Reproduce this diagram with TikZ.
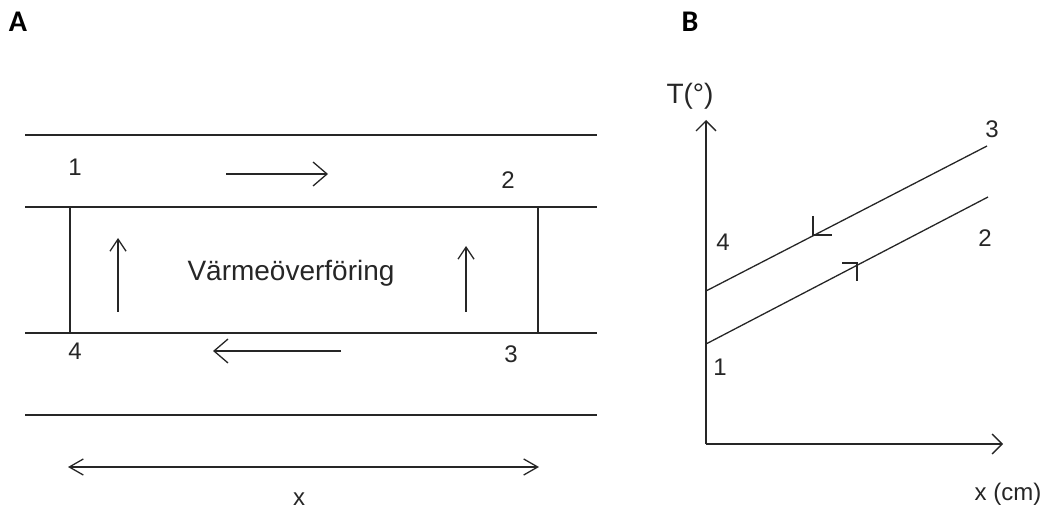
\documentclass[tikz,border=0pt]{standalone}
\usepackage{fontspec}
\setmainfont{Liberation Sans}
\newfontfamily\panelfont{Carlito}
\usetikzlibrary{arrows.meta}
\begin{document}
\begin{tikzpicture}[x=1pt,y=-1pt,line width=1.3pt,
  ln/.style={draw=black!85},
  txt/.style={font=\fontsize{24}{28}\selectfont,text=black!85,inner sep=0pt},
  big/.style={font=\fontsize{28}{32}\selectfont,text=black!85,inner sep=0pt},
  panel/.style={font=\panelfont\bfseries\fontsize{30}{34}\selectfont,inner sep=0pt},
  flow/.style={ln,-{Straight Barb[length=14pt,width=24pt,line width=1.3pt]}},
  upflow/.style={ln,-{Straight Barb[length=12pt,width=16pt,line width=1.3pt]}},
  dim/.style={ln,{Straight Barb[length=14pt,width=16pt,line width=1.3pt]}-{Straight Barb[length=14pt,width=16pt,line width=1.3pt]}},
  axis/.style={ln,-{Straight Barb[length=10pt,width=20pt,line width=1.3pt]}}]
\useasboundingbox (0,0) rectangle (1054,510);

% panel labels
\node[panel] (pa) at (18,22) {A};
\node[panel] (pb) at (690,22) {B};

% ---------- panel A ----------
\coordinate (l1a) at (25,135);  \coordinate (l1b) at (597,135);
\coordinate (l2a) at (25,207);  \coordinate (l2b) at (597,207);
\coordinate (l3a) at (25,333);  \coordinate (l3b) at (597,333);
\coordinate (l4a) at (25,415);  \coordinate (l4b) at (597,415);
\draw[ln] (l1a) -- (l1b);
\draw[ln] (l2a) -- (l2b);
\draw[ln] (l3a) -- (l3b);
\draw[ln] (l4a) -- (l4b);
\coordinate (v1t) at (70,207);  \coordinate (v1b) at (70,333);
\coordinate (v2t) at (538,207); \coordinate (v2b) at (538,333);
\draw[ln] (v1t) -- (v1b);
\draw[ln] (v2t) -- (v2b);

\node[txt] (a1) at (75,167) {1};
\node[txt] (a2) at (508,180) {2};
\node[txt] (a3) at (511,354) {3};
\node[txt] (a4) at (75,351) {4};

\coordinate (f1s) at (226,174); \coordinate (f1e) at (328,174);
\draw[flow] (f1s) -- (f1e);
\coordinate (f2s) at (341,351); \coordinate (f2e) at (213,351);
\draw[flow] (f2s) -- (f2e);
\coordinate (u1s) at (118,312); \coordinate (u1e) at (118,238);
\draw[upflow] (u1s) -- (u1e);
\coordinate (u2s) at (466,312); \coordinate (u2e) at (466,246);
\draw[upflow] (u2s) -- (u2e);

\node[big] (heat) at (291,273) {Värmeöverföring};

\coordinate (dl) at (68,467); \coordinate (dr) at (539,467);
\draw[dim] (dl) -- (dr);
\node[txt] (xa) at (299,499) {x};

% ---------- panel B ----------
\coordinate (o) at (706,444);
\coordinate (ytop) at (706,120);
\coordinate (xend) at (1003,444);
\draw[axis] (o) -- (ytop);
\draw[axis] (o) -- (xend);
\node[big] (ty) at (690,96) {T(°)};
\node[txt] (xl) at (1008,494) {x (cm)};

\coordinate (p4) at (706,291); \coordinate (p3) at (987,146);
\coordinate (p1) at (706,344); \coordinate (p2) at (988,197);
\draw[ln] (p4) -- (p3);
\draw[ln] (p1) -- (p2);

% half arrow marks
\coordinate (m1) at (813,235);
\coordinate (m1u) at (813,216);
\coordinate (m1r) at (832,235);
\draw[ln] (m1u) -- (m1) -- (m1r);
\coordinate (m2) at (857,263);
\coordinate (m2l) at (842,263);
\coordinate (m2d) at (857,281);
\draw[ln] (m2l) -- (m2) -- (m2d);

\node[txt] (b3) at (992,129) {3};
\node[txt] (b2) at (985,238) {2};
\node[txt] (b4) at (723,242) {4};
\node[txt] (b1) at (720,367) {1};
\end{tikzpicture}
\end{document}
